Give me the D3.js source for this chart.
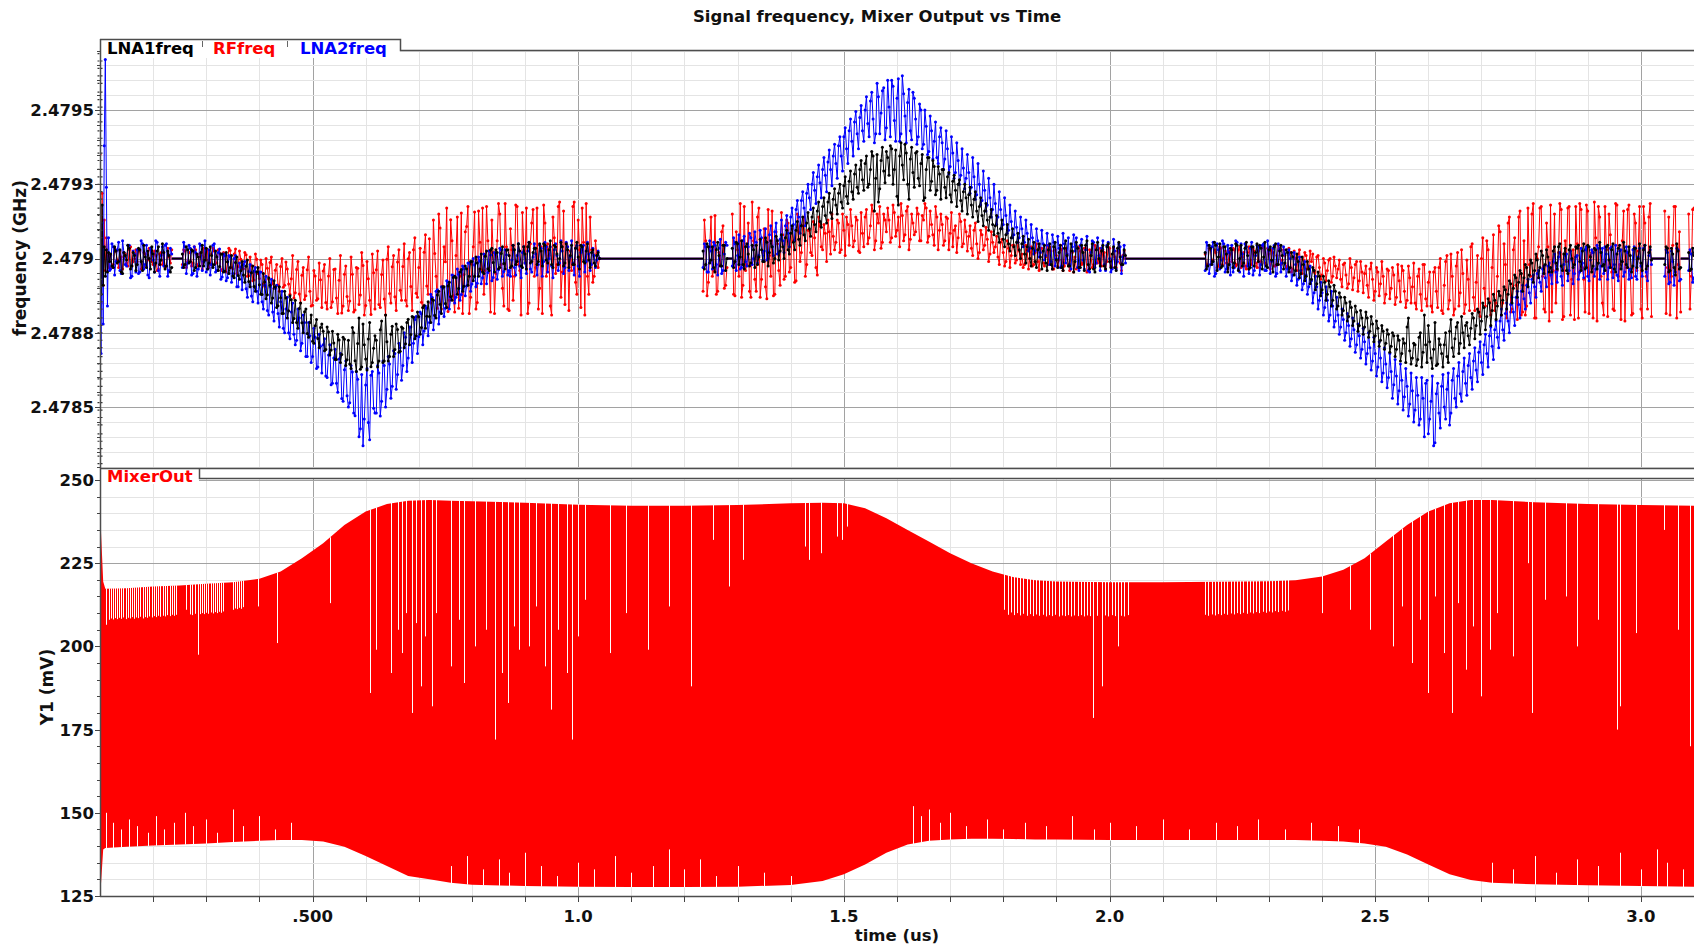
<!DOCTYPE html>
<html>
<head>
<meta charset="utf-8">
<title>Signal frequency, Mixer Output vs Time</title>
<script src="https://cdn.jsdelivr.net/npm/d3@7"></script>
<style>
  html, body { margin: 0; padding: 0; background: #fff; }
  svg { display: block; }
</style>
</head>
<body>
<svg id="chart" width="1694" height="947"></svg>
<script>
/* ---- DATA -----------------------------------------------------------------
   Frequency series are offsets in kHz from 2.479 GHz. Each measured stretch
   starts at SEG_START_US; *_A/_B/_C hold the samples on the 5 ns grid and
   *_MID the samples half a step later. null = counter holding.             */
var FREQ_CENTER_GHZ = 2.479;
var STEP_US = 0.005;
var SEG_START_US = [0.12, 1.235, 2.18];
var START_T0_US = 0.1, START_STEP_US = 0.002;      // start-up transient
var HOLD_SPANS_US = [[0.235, 0.255], [1.04, 1.235], [1.28, 1.29], [2.03, 2.18], [3.02, 3.045], [3.075, 3.09]];

var LNA1_START = [60, -120, 180, -90, 40, -60, 30, -45, 20, -10];
var LNA2_START = [-120, -320, 120, -220, 380, 670, 240, -160, 70, -40];
var RF_START   = [350, -150, 220, -90, 130, -40, 70, 15, -30, 10];
// LNA1 start-up marks stacked at t = 0.1 us
var LNA1_TRANSIENT = [-690, -665, -640, -615, -590, -560, -535, -510, -485, -460, -430, -405, -380, -355, -330,
  -300, -275, -250, -225, -200, -170, -145, -120, -95, -70, 70, 95, 120, 145, 170, 200, 225, 250, 275, 300,
  330, 355, 380, 405, 430, 460, 485, 510, 535, 560, 590, 615, 640, 665, 690];

var LNA1_A = [
  15, -30, 25, -10, -45, 20, -5, 35, -25, 10,
  -20, 30, -40, 5, 25, -35, 15, -15, 40, -5,
  20, -25, 10, -30, null, null, null, 15, -20, 30,
  -10, 25, -30, 5, 20, -25, 35, -15, 10, -20,
  5, -27, 15, -43, -11, -30, -59, -13, -57, -41,
  -55, -26, -77, -48, -94, -45, -88, -121, -79, -122,
  -90, -133, -96, -159, -132, -185, -133, -176, -139, -202,
  -215, -168, -216, -179, -252, -215, -278, -226, -269, -232,
  -245, -306, -247, -308, -284, -340, -274, -323, -272, -341,
  -355, -232, -344, -286, -373, -220, -338, -271, -364, -302,
  -275, -345, -210, -345, -280, -330, -228, -306, -239, -312,
  -235, -287, -204, -256, -198, -260, -196, -232, -158, -194,
  -195, -136, -192, -123, -154, -95, -151, -92, -128, -64,
  -65, -101, -37, -93, -34, -60, -10, -60, -15, -35,
  -45, 8, -34, 29, -13, 30, -34, 17, -17, 29,
  10, -25, 30, -10, 25, -30, 15, 40, -15, 20,
  35, -10, 25, 50, -5, 30, -20, 45, 15, 0,
  40, -15, 30, 10, -20, 35, 5, 45, -10, 25,
  -5, 20, -15, 10, 0
];
var LNA1_A_MID = [
  -25, 40, -15, 30, -50, 10, 45, -35, 20, -40,
  35, -10, 45, -30, 0, 40, -45, 25, -20, 50,
  -35, 25, -45, null, null, null, null, -30, 40, -15,
  30, -40, 15, -25, 45, -5, -35, 40, -30, 25,
  -40, 15, -45, 20, -50, 10, -65, 5, -70, -10,
  -80, -5, -95, -25, -110, -30, -120, -50, -135, -65,
  -150, -75, -165, -95, -185, -110, -200, -125, -215, -140,
  -235, -150, -250, -170, -265, -190, -285, -205, -300, -220,
  -310, -230, -325, -245, -340, -255, -350, -265, -360, -275,
  -370, -250, -380, -200, -365, -290, -375, -215, -350, -260,
  -365, -240, -350, -190, -345, -255, -330, -220, -315, -230,
  -300, -215, -290, -195, -270, -180, -255, -165, -235, -145,
  -215, -140, -200, -110, -185, -95, -165, -80, -140, -60,
  -120, -45, -110, -25, -90, -10, -75, 5, -60, 15,
  -50, 25, -40, 35, -45, 20, -30, 40, -35, 30,
  -30, 45, -20, 50, -25, 40, -35, 55, -10, 35,
  -20, 50, -25, 45, -15, 60, -30, 40, -20, 55,
  -25, 50, -30, 45, -20, 55, -35, 40, -15, 50,
  -30, 30, -25, 20
];
var LNA2_A = [
  -35, 40, -10, 55, -50, 20, -25, 45, -60, 15,
  30, -45, 50, -20, -55, 35, -5, 60, -40, 10,
  -25, 50, -40, 15, null, null, null, -30, 40, -15,
  35, -50, 20, -35, 45, -10, -45, 30, -20, 50,
  -40, 32, -62, 10, -65, 5, -50, 10, -95, -30,
  -20, -102, -44, -126, -43, -110, -45, -145, -90, -175,
  -95, -180, -100, -185, -145, -235, -170, -250, -180, -255,
  -275, -200, -285, -215, -330, -260, -330, -265, -365, -295,
  -290, -395, -325, -425, -335, -420, -338, -471, -374, -462,
  -485, -382, -529, -406, -573, -630, -426, -552, -393, -504,
  -520, -385, -480, -360, -440, -355, -430, -320, -390, -300,
  -360, -265, -335, -230, -285, -195, -263, -186, -244, -167,
  -215, -130, -190, -105, -180, -100, -167, -79, -131, -58,
  -130, -53, -121, -34, -92, -15, -86, -22, -83, -9,
  -65, 9, -47, 12, -64, 15, -38, 29, -44, 13,
  -40, -5, -30, 10, -25, 20, -15, 25, -35, 5,
  15, -20, 35, -10, 40, 0, -25, 30, 10, -15,
  25, -30, 40, 5, -15, 35, -25, 20, 45, -10,
  15, -20, 10, -5, 0
];
var LNA2_A_MID = [
  50, -55, 30, -40, 60, -20, 45, -65, 25, -45,
  -50, 60, -35, 45, -65, 20, -45, 55, -60, 40,
  45, -60, 35, null, null, null, null, 55, -50, 45,
  -55, 40, -60, 50, -40, 60, -35, -55, 45, -45,
  20, -70, 15, -75, 10, -80, 0, -95, -15, -105,
  -10, -130, -20, -145, -30, -150, -45, -170, -60, -190,
  -70, -210, -90, -230, -110, -250, -130, -270, -150, -290,
  -170, -310, -190, -330, -215, -350, -235, -370, -255, -385,
  -270, -400, -290, -420, -305, -450, -320, -480, -345, -500,
  -360, -520, -380, -600, -390, -540, -370, -610, -380, -520,
  -360, -530, -345, -500, -330, -470, -310, -440, -285, -410,
  -250, -380, -230, -350, -205, -320, -180, -290, -160, -260,
  -120, -240, -110, -220, -95, -195, -75, -170, -55, -150,
  -35, -140, -25, -125, -15, -110, 0, -95, 5, -85,
  15, -85, 25, -75, 20, -70, 35, -60, 30, -55,
  -60, 45, -55, 50, -65, 40, -50, 55, -45, 50,
  -55, 45, -60, 55, -45, 40, -65, 50, -40, 60,
  -50, 55, -40, 60, -55, 45, -60, 35, -45, 55,
  -40, 35, -30, 25
];
var RF_A = [
  10, -20, 25, -30, 5, 20, -15, 30, -25, 0,
  -10, 25, -30, 15, -5, 30, -20, 10, -35, 20,
  15, -25, 5, 30, null, null, null, -20, 25, -10,
  20, -15, 30, -25, 10, 35, -5, -30, 15, 25,
  -15, 19, -37, 13, -12, 27, -34, 32, -27, -2,
  -34, 13, -58, -24, -72, -2, -67, -20, -94, -33,
  -13, -84, -39, -89, -27, -97, -12, -86, -68, -133,
  -37, -119, -56, -138, -38, -110, -157, -59, -135, -71,
  -42, -148, -59, -165, -37, -133, -73, -183, -53, -128,
  -143, -53, -173, -33, -123, -23, -158, -68, -188, -48,
  -38, -155, -54, -136, -2, -118, -28, -129, -12, -107,
  -27, -140, -1, -94, 30, -117, -30, -147, 21, -92,
  67, -131, 17, -167, 103, -93, -11, -178, 131, -124,
  10, -167, 153, -54, 108, -185, -19, 157, -148, 55,
  170, -40, 60, -180, 20, -50, 185, -20, -160, 40,
  -175, 30, -60, 175, -40, 155, -15, -185, 50, 165,
  -30, -170, 40, 180, -60, 10, -190, 70, -20, 190,
  -45, -155, 40, 25, 175, -80, 130, -165, 55, 185,
  -120, 30, -60, 15, 0
];
var RF_A_MID = [
  -30, 35, -5, 25, -35, 15, -25, 40, -10, 30,
  30, -35, 20, -25, 35, -10, 25, -40, 15, -20,
  -30, 35, -15, null, null, null, null, 30, -30, 20,
  -25, 40, -20, 15, -35, 5, 30, -20, 35, -15,
  30, -40, 20, -45, 35, -30, 15, -50, 25, -35,
  20, -60, 5, -75, 15, -50, -5, -85, 0, -70,
  5, -100, -20, -110, 0, -90, -35, -120, 10, -115,
  -10, -150, -30, -125, 5, -160, -40, -140, -15, -165,
  -20, -170, 0, -145, -35, -185, 10, -160, -25, -175,
  5, -180, -30, -155, 20, -190, -10, -140, 15, -170,
  25, -165, -5, -190, 40, -150, 10, -175, 30, -140,
  50, -160, 20, -175, 70, -130, 35, -165, 80, -120,
  -150, 130, -60, 150, -170, 40, 170, -140, 60, -180,
  140, -60, -185, 90, 175, -130, 40, -170, 160, -40,
  -120, 175, -30, 130, -185, 60, 150, -100, 185, -170,
  100, -140, 180, -20, -190, 40, 170, -150, 120, -60,
  170, -100, -185, 120, 50, -160, 140, -50, 175, -130,
  160, 50, -175, -40, 190, -120, 30, 170, -190, -60,
  140, -80, 60, -30
];

var LNA1_B = [
  25, -20, 40, -5, -30, 30, 10, -25, 45, 0,
  null, 35, -10, 50, 5, -20, 40, 15, -15, 30,
  45, 5, 30, -10, 55, 20, 40, 0, 60, 25,
  40, 70, 30, 85, 55, 95, 65, 110, 80, 120,
  100, 140, 115, 160, 125, 175, 145, 190, 155, 200,
  180, 220, 190, 245, 210, 260, 225, 285, 240, 300,
  265, 320, 240, 300, 345, 270, 190, 330, 295, 360,
  280, 370, 300, 210, 345, 315, 385, 250, 335, 290,
  355, 270, 320, 195, 300, 340, 260, 310, 230, 285,
  300, 240, 275, 215, 260, 230, 250, 195, 225, 205,
  215, 180, 200, 160, 175, 145, 160, 130, 140, 115,
  110, 85, 100, 65, 80, 50, 70, 40, 55, 30,
  50, 15, 40, 0, 35, -10, 30, 5, 25, -15,
  30, -20, 40, -5, 20, -30, 35, 10, -25, 25,
  -10, 35, -30, 20, 45, -20, 10, -35, 30, 0,
  25, -25, 40, -10, 15, -30, 35, 5, -20, 10
];
var LNA1_B_MID = [
  -35, 50, -15, 40, -45, 55, -25, 45, -40, null,
  null, -30, 55, -20, 60, -35, 50, -25, 45, -30,
  -20, 65, -10, 70, -25, 60, -15, 75, -5, 80,
  0, 95, 15, 110, 30, 125, 45, 140, 60, 155,
  75, 170, 90, 190, 105, 205, 120, 220, 135, 235,
  150, 250, 170, 275, 185, 295, 200, 315, 220, 330,
  230, 345, 250, 360, 160, 350, 235, 375, 255, 340,
  380, 250, 365, 180, 390, 265, 355, 200, 375, 240,
  360, 245, 350, 205, 340, 230, 330, 215, 310, 200,
  300, 205, 290, 190, 280, 175, 265, 160, 250, 150,
  240, 140, 225, 125, 205, 110, 185, 95, 165, 80,
  145, 55, 130, 40, 115, 25, 100, 10, 85, 0,
  75, -15, 65, -25, 55, -30, 50, -35, 45, -40,
  50, -35, 55, -30, 45, -40, 60, -25, 50, -45,
  55, -30, 45, -40, 60, -35, 50, -45, 55, -25,
  45, -35, 50, -30, 40, -40, 55, -20, 30
];
var LNA2_B = [
  -30, 40, -45, 25, 55, -20, 35, -50, 15, 45,
  null, -25, 50, 10, -35, 60, -10, 40, 70, 0,
  55, 10, 70, 25, -5, 80, 40, 90, 15, 65,
  60, 110, 85, 140, 115, 165, 140, 195, 170, 220,
  205, 250, 230, 275, 255, 300, 280, 325, 300, 345,
  320, 380, 345, 410, 370, 430, 395, 460, 420, 475,
  430, 500, 455, 530, 470, 420, 545, 490, 575, 440,
  510, 600, 465, 540, 395, 615, 480, 525, 430, 560,
  470, 410, 500, 385, 445, 360, 430, 395, 340, 410,
  390, 335, 370, 310, 355, 290, 330, 280, 305, 270,
  290, 240, 275, 215, 250, 195, 230, 180, 205, 165,
  185, 140, 165, 115, 145, 95, 125, 80, 105, 70,
  100, 55, 85, 35, 70, 25, 60, 20, 50, 10,
  45, -10, 55, 0, 35, -25, 50, 15, -20, 40,
  25, -30, 45, -5, 30, -40, 20, 55, -15, 10,
  35, -20, 45, 0, -35, 25, -10, 40, 5, -15
];
var LNA2_B_MID = [
  50, -45, 60, -35, 45, -55, 65, -40, 55, null,
  null, 70, -40, 80, -30, 75, -25, 85, -20, 90,
  -15, 95, -5, 100, 0, 110, 10, 120, 20, 130,
  20, 145, 40, 170, 60, 195, 85, 225, 110, 250,
  165, 290, 185, 315, 205, 340, 225, 365, 245, 385,
  270, 410, 295, 440, 320, 470, 345, 495, 370, 515,
  395, 545, 410, 560, 390, 590, 420, 565, 400, 600,
  410, 580, 395, 605, 420, 555, 390, 570, 400, 540,
  385, 520, 370, 500, 350, 480, 335, 460, 320, 440,
  300, 430, 285, 410, 270, 390, 250, 370, 235, 350,
  220, 340, 200, 320, 180, 295, 160, 270, 140, 250,
  115, 225, 100, 205, 85, 180, 70, 160, 55, 140,
  40, 130, 25, 115, 15, 100, 5, 95, -5, 85,
  -20, 80, -25, 75, -30, 85, -15, 70, -35, 80,
  70, -40, 65, -35, 75, -45, 60, -30, 70, -40,
  60, -40, 55, -45, 65, -35, 50, -50, 45
];
var RF_B = [
  -110, 60, -80, 140, -40, -120, 20, 90, -100, -30,
  null, 150, -125, 30, 185, -90, -40, 120, -130, 60,
  -110, 170, -70, 100, -135, 10, 160, -120, 50, -90,
  80, -60, 120, -30, 60, -75, 90, 20, 140, -20,
  95, 10, 70, -55, 110, 30, 85, 130, 15, 75,
  55, 120, 30, 95, 140, 45, 110, 60, 130, 20,
  85, 140, 50, 110, 160, 60, 120, 35, 150, 90,
  130, 70, 155, 95, 40, 145, 80, 175, 65, 120,
  90, 150, 60, 130, 170, 75, 115, 45, 140, 95,
  115, 60, 135, 85, 40, 110, 70, 125, 50, 90,
  75, 35, 95, 50, 20, 80, 45, 65, 15, 55,
  40, 5, 55, 20, -10, 35, 10, 45, -5, 25,
  15, -20, 30, 0, -25, 20, -10, 35, -15, 5,
  -20, 25, -35, 10, -5, 30, -25, 15, -40, 20,
  5, -30, 25, -15, 35, -40, 10, -20, 30, -5,
  -25, 20, -10, 35, -30, 5, 25, -15, 10, 0
];
var RF_B_MID = [
  130, -125, 40, -60, 145, -110, -20, 110, -90, null,
  null, -120, 90, -60, -130, 175, -20, -110, 190, -70,
  140, -130, 20, -95, 165, -60, -125, 90, -40, 155,
  -70, 130, -45, 100, -80, 150, -10, 110, -60, 95,
  20, 125, -30, 140, 40, 115, -10, 90, 150, 30,
  130, 20, 150, 10, 115, 165, 40, 140, 25, 155,
  40, 165, 70, 180, 30, 150, 175, 55, 130, 170,
  55, 180, 75, 140, 185, 60, 160, 30, 150, 80,
  170, 60, 145, 185, 55, 160, 80, 175, 30, 150,
  45, 140, 30, 155, 95, 20, 150, 40, 130, 25,
  110, 10, 120, 0, 95, 30, 105, -10, 90, 20,
  75, -20, 65, -25, 60, -30, 45, -15, 55, -20,
  -30, 45, -35, 40, -20, 50, -40, 35, -25, 45,
  40, -35, 30, -25, 45, -40, 35, -20, 25, -45,
  -35, 40, -20, 35, -45, 30, -30, 45, -15, 35,
  30, -35, 40, -25, 35, -30, 20, -40, 25
];

var LNA1_C = [
  20, -25, 35, -10, 45, 5, -30, 40, 15, -20,
  30, -15, 45, 0, -25, 35, 10, -30, 40, 20,
  -10, 35, 5, -25, 30, -5, 40, -20, 25, 10,
  -15, 20, -30, 5, -40, -10, -50, -20, -60, -35,
  -70, -40, -85, -60, -105, -80, -120, -95, -140, -110,
  -160, -130, -175, -150, -195, -165, -210, -180, -225, -200,
  -230, -200, -245, -220, -260, -235, -275, -245, -285, -255,
  -295, -260, -305, -275, -320, -285, -230, -310, -335, -290,
  -340, -250, -315, -290, -225, -335, -305, -360, -270, -320,
  -290, -330, -245, -300, -270, -215, -285, -250, -225, -260,
  -235, -200, -225, -180, -210, -165, -195, -150, -175, -140,
  -160, -125, -140, -105, -120, -85, -100, -65, -80, -50,
  -65, -30, -55, -15, -40, -5, -30, 10, -20, 5,
  -30, 25, -15, 40, -25, 15, -40, 30, 0, -20,
  35, -10, 25, -35, 45, 5, -25, 30, -15, 20,
  -20, 40, -5, 30, -35, 15, 45, -10, 25, -30,
  10, -25, 35, 0, -15, 30, -35, 20, -5, null,
  null, null, null, -20, 35, -40, 15, -55, 25, -30,
  null, null, 20, -35, 10
];
var LNA1_C_MID = [
  -35, 45, -20, 55, -40, 50, -25, 40, -45, 35,
  -30, 50, -40, 45, -15, 55, -35, 40, -25, 50,
  45, -35, 55, -30, 40, -45, 50, -20, 45, -35,
  30, -45, 20, -55, 15, -65, 5, -75, -10, -85,
  -30, -105, -45, -125, -60, -140, -75, -160, -90, -170,
  -115, -190, -130, -210, -145, -225, -160, -245, -175, -255,
  -180, -265, -195, -280, -210, -295, -225, -305, -240, -315,
  -250, -330, -260, -345, -270, -350, -200, -355, -285, -360,
  -265, -365, -190, -350, -280, -370, -215, -355, -290, -365,
  -250, -350, -205, -330, -230, -320, -195, -300, -215, -290,
  -185, -270, -170, -255, -150, -240, -135, -225, -120, -205,
  -110, -190, -95, -170, -75, -150, -55, -130, -40, -110,
  -20, -95, -5, -80, 15, -65, 25, -50, 30, -45,
  -45, 40, -35, 50, -40, 35, -50, 45, -30, 40,
  45, -40, 50, -30, 40, -45, 35, -35, 55, -25,
  -40, 45, -30, 50, -45, 35, -35, 55, -20, 40,
  -45, 35, -30, 50, -40, 45, -25, 40, null, null,
  null, null, null, 40, -45, 35, -30, 50, -35, null,
  null, null, -40, 35
];
var LNA2_C = [
  -40, 45, -20, 55, -50, 30, -5, 50, -35, 20,
  45, -30, 55, -45, 15, 50, -25, 35, -55, 10,
  40, -20, 50, -40, 25, -10, 45, -50, 30, -15,
  15, -35, 0, -55, -20, -70, -40, -85, -55, -95,
  -75, -115, -95, -140, -115, -165, -140, -190, -160, -210,
  -190, -230, -205, -250, -225, -270, -240, -290, -260, -305,
  -280, -320, -300, -345, -320, -365, -335, -385, -355, -400,
  -380, -425, -395, -445, -410, -465, -430, -490, -445, -510,
  -460, -540, -470, -420, -590, -480, -630, -455, -520, -430,
  -500, -440, -560, -410, -470, -395, -455, -380, -420, -360,
  -400, -345, -375, -315, -350, -290, -320, -260, -295, -240,
  -265, -210, -240, -185, -210, -155, -180, -130, -155, -110,
  -135, -90, -115, -70, -95, -50, -80, -35, -65, -25,
  -55, -10, -45, 5, -60, -20, 15, -40, -5, -50,
  10, -45, -15, 30, -60, -5, 20, -35, 35, -25,
  -50, 15, -30, 40, -20, -55, 25, -10, -45, 20,
  -35, 30, -60, 5, -25, 35, -45, 10, -20, null,
  null, null, null, -60, 20, -80, -10, -45, 30, -70,
  null, null, -40, 15, -65
];
var LNA2_C_MID = [
  55, -50, 40, -60, 50, -35, 60, -45, 45, -55,
  -45, 60, -35, 50, -60, 40, -50, 55, -40, 45,
  -55, 45, -40, 60, -50, 35, -60, 50, -45, 40,
  -60, 30, -75, 20, -90, 5, -105, -10, -120, -25,
  -150, -60, -170, -80, -190, -95, -210, -110, -230, -130,
  -255, -170, -275, -185, -295, -200, -315, -220, -335, -235,
  -355, -250, -375, -265, -395, -280, -415, -300, -435, -320,
  -470, -340, -490, -355, -510, -370, -530, -385, -550, -400,
  -560, -400, -600, -410, -540, -395, -620, -420, -570, -390,
  -540, -385, -520, -370, -500, -350, -480, -335, -460, -320,
  -440, -300, -415, -280, -390, -255, -365, -230, -340, -210,
  -300, -170, -275, -150, -250, -130, -225, -110, -200, -90,
  -170, -70, -150, -55, -130, -40, -110, -25, -95, -15,
  -85, 15, -80, 20, -90, 10, -75, 25, -85, 5,
  -70, 35, -65, 40, -75, 30, -60, 45, -70, 35,
  40, -70, 35, -65, 45, -75, 30, -60, 40, -70,
  -65, 40, -70, 35, -60, 45, -75, 30, null, null,
  null, null, null, 30, -85, 25, -90, 35, -75, null,
  null, null, 30, -80
];
var RF_C = [
  15, -20, 30, -5, 20, -25, 35, 0, -15, 25,
  -10, 30, -20, 40, 5, -25, 20, -5, 35, -15,
  25, -10, 40, -20, 15, 30, -25, 10, 35, -5,
  10, -25, 20, -35, 0, 15, -40, -5, 10, -30,
  -10, -45, 5, -30, -55, -15, -40, 0, -60, -25,
  -35, -70, -20, -55, -85, -30, -65, -10, -75, -45,
  -50, -90, -35, -70, -110, -45, -85, -60, -120, -40,
  -100, -55, -130, -75, -25, -110, -140, -65, -95, -150,
  -60, -120, -20, -135, -80, -160, -45, -110, -30, -175,
  -90, 10, -140, -60, -170, 20, -115, -50, -155, -70,
  40, -130, -80, -180, 0, -100, 60, -145, -30, -175,
  -60, 90, -150, -20, 120, -180, 30, -90, 140, -190,
  60, -160, -20, 150, -200, 0, 170, -60, -180, 40,
  180, -40, -150, 20, 165, -195, -10, 175, -70, -205,
  50, 185, -30, -180, 160, 10, -200, 70, 175, -60,
  -190, 30, 150, -45, -175, 180, -20, 60, -210, 165,
  -40, -185, 120, 25, -170, 175, -60, 140, -195, null,
  null, null, null, 160, -30, -190, 45, 175, -20, -180,
  null, null, 150, -60, 170
];
var RF_C_MID = [
  -25, 35, -10, 30, -30, 40, -20, 25, -35, 15,
  35, -25, 30, -30, 20, -35, 40, -20, 25, -30,
  -30, 40, -15, 35, -35, 20, -25, 45, -20, 30,
  -30, 35, -45, 25, -40, 30, -50, 20, -35, 25,
  15, -60, 10, -70, 0, -75, -5, -80, 5, -65,
  -5, -95, -15, -100, 0, -105, -20, -110, -10, -115,
  -25, -130, -15, -140, -30, -125, -10, -150, -35, -135,
  -30, -155, -20, -145, -40, -165, -25, -150, -15, -170,
  -35, -175, -20, -160, -45, -180, -30, -165, 0, -185,
  -10, -170, 15, -190, -25, -160, 30, -185, -5, -175,
  50, -175, 10, -195, 70, -160, 30, -190, 80, -150,
  110, -190, 50, -200, 140, -170, 70, -205, 160, -180,
  -190, 170, -60, 185, -200, 40, 175, -170, 120, -210,
  -180, 150, -40, 185, -205, 60, 170, -190, 30, 175,
  -200, 165, -70, 180, -185, 20, 190, -210, 140, -150,
  175, -195, 80, -170, 185, -60, -205, 160, -30, 180,
  -190, 150, -40, 175, -200, 120, -170, 185, null, null,
  null, null, null, -185, 140, -60, 175, -200, 90, null,
  null, null, -170, 165
];

/* Mixer output: envelope of the dense oscillation (mV) */
var MIX_T = [0.100, 0.102, 0.106, 0.110, 0.15, 0.20, 0.25, 0.30, 0.35, 0.40,
  0.44, 0.48, 0.52, 0.56, 0.60, 0.64, 0.68, 0.72, 0.76, 0.80,
  0.90, 1.00, 1.10, 1.20, 1.30, 1.40,
  1.46, 1.50, 1.54, 1.58, 1.62, 1.66, 1.70, 1.74, 1.78, 1.82, 1.86, 1.90,
  2.00, 2.10, 2.20, 2.30, 2.35, 2.40, 2.44, 2.48, 2.52, 2.56, 2.60, 2.64, 2.68, 2.72,
  2.80, 2.90, 3.00, 3.10];
var MIX_TOP = [248, 234, 219.5, 217.3, 217.5, 218, 218.3, 218.8, 219.3, 220.3,
  222.5, 226.5, 231, 236.5, 240.5, 242.8, 243.8, 244, 243.8, 243.6,
  243.2, 242.6, 242.3, 242.3, 242.5, 243,
  243.2, 243, 241.5, 238.5, 235, 231.5, 228, 225, 222.5, 220.8, 219.9, 219.5,
  219.3, 219.3, 219.4, 219.6, 219.9, 221, 223, 226.5, 231.5, 236.5, 240.5, 243, 244, 244,
  243.3, 242.8, 242.5, 242.3];
var MIX_BOT = [125, 129, 139, 139.4, 139.8, 140.2, 140.5, 140.8, 141.2, 141.6,
  141.8, 141.8, 141.4, 139.8, 137, 134, 131, 130, 129, 128.4,
  128, 127.8, 127.7, 127.7, 127.8, 128.3,
  129.5, 131.5, 134.5, 138, 140.5, 141.6, 142, 142.2, 142.2, 142.1, 142, 142,
  141.8, 141.8, 141.8, 141.8, 141.8, 141.6, 141.4, 140.8, 139.8, 137.5, 134.5, 131.5, 129.8, 129,
  128.5, 128.2, 128, 127.8];
// cycles whose peak falls short of the envelope: [time us, peak mV]
var MIX_TOP_DIPS = [
  [0.112, 206.5], [0.116, 208], [0.12, 208.4], [0.124, 208.1], [0.128, 208.5], [0.132, 208.2], [0.136, 208.6],
  [0.14, 208.3], [0.144, 208.7], [0.148, 208.2], [0.152, 208.6], [0.156, 208.4], [0.16, 208.8], [0.164, 208.3],
  [0.168, 208.7], [0.172, 208.5], [0.176, 208.9], [0.18, 208.4], [0.184, 208.8], [0.188, 208.6], [0.193, 209],
  [0.197, 208.7], [0.201, 209.1], [0.205, 208.8], [0.209, 209.2], [0.213, 208.9],
  [0.219, 209.2], [0.223, 209], [0.227, 209.4], [0.231, 209.1], [0.235, 209.5], [0.239, 209.2], [0.243, 209.5],
  [0.262, 211], [0.27, 209.6], [0.274, 209.4], [0.278, 209.8], [0.284, 197.5], [0.288, 209.7], [0.292, 210],
  [0.296, 209.7], [0.3, 210.1], [0.304, 209.8], [0.308, 210.2], [0.312, 209.9], [0.316, 210.3], [0.32, 210],
  [0.324, 210.4], [0.328, 210.1], [0.332, 210.5],
  [0.35, 211], [0.354, 211.4], [0.358, 211.2], [0.362, 211.6], [0.366, 211.3], [0.37, 211.8],
  [0.397, 212], [0.433, 201],
  [0.532, 213], [0.609, 186], [0.62, 199], [0.647, 192], [0.66, 205], [0.668, 198], [0.675, 210], [0.688, 180],
  [0.695, 207], [0.704, 188], [0.712, 203], [0.725, 182], [0.733, 210], [0.761, 194], [0.775, 208], [0.786, 189],
  [0.805, 200], [0.826, 205], [0.843, 172], [0.856, 192], [0.867, 183], [0.88, 206], [0.888, 199], [0.908, 200],
  [0.92, 212], [0.938, 194], [0.948, 181], [0.962, 205], [0.978, 192], [0.989, 172], [1.0, 203], [1.012, 214],
  [1.06, 198], [1.09, 210], [1.131, 199], [1.17, 212], [1.213, 188], [1.253, 232], [1.284, 218], [1.31, 226],
  [1.426, 230], [1.434, 226], [1.457, 228], [1.488, 233], [1.497, 232], [1.505, 236],
  [1.802, 211], [1.808, 209.5], [1.814, 210.2], [1.82, 209.4], [1.826, 210], [1.832, 209.3], [1.838, 209.8],
  [1.844, 209.2], [1.85, 209.7], [1.856, 209.1], [1.862, 209.6], [1.868, 209.2], [1.874, 209.5], [1.88, 209],
  [1.886, 209.4], [1.892, 209.1], [1.898, 209.5], [1.904, 209], [1.91, 209.3], [1.916, 209.1], [1.922, 209.4],
  [1.928, 209], [1.934, 209.3], [1.94, 209.1], [1.946, 209.4], [1.952, 209], [1.958, 209.3], [1.964, 209.1],
  [1.969, 178.5], [1.976, 209.2], [1.985, 188], [1.992, 209.3], [1.998, 209], [2.004, 209.4], [2.01, 209.1],
  [2.016, 200], [2.022, 209.2], [2.028, 209], [2.034, 209.4],
  [2.18, 209.5], [2.186, 209.2], [2.192, 209.6], [2.198, 209.3], [2.204, 209.7], [2.21, 209.4], [2.216, 209.8],
  [2.222, 209.5], [2.228, 209.9], [2.234, 209.6], [2.24, 210], [2.246, 209.7], [2.252, 210.1], [2.258, 209.8],
  [2.264, 210.2], [2.27, 209.9], [2.276, 210.3], [2.282, 210], [2.288, 210.4], [2.294, 210.1], [2.3, 210.5],
  [2.306, 210.2], [2.312, 210.6], [2.318, 210.3], [2.324, 210.7], [2.33, 210.4], [2.336, 210.8],
  [2.4, 210], [2.453, 211], [2.49, 205], [2.534, 200], [2.55, 212], [2.57, 195], [2.585, 208], [2.6, 186],
  [2.612, 215], [2.63, 198], [2.645, 180], [2.656, 213], [2.67, 193], [2.685, 206], [2.7, 185], [2.717, 199],
  [2.73, 210], [2.76, 197], [2.788, 225], [2.795, 180], [2.82, 214], [2.86, 215], [2.88, 200], [2.92, 208],
  [2.955, 175], [2.961, 182], [2.99, 204], [3.043, 235], [3.07, 205], [3.093, 170]
];
// cycles whose trough stays above the envelope: [time us, trough mV]
var MIX_BOT_DIPS = [
  [0.112, 150], [0.125, 147], [0.14, 145], [0.155, 148], [0.17, 146], [0.19, 144], [0.205, 149], [0.22, 145],
  [0.24, 147], [0.26, 150], [0.275, 146], [0.3, 148], [0.32, 144], [0.35, 151], [0.37, 146], [0.4, 149],
  [0.43, 145], [0.46, 147],
  [0.76, 134], [0.79, 137], [0.82, 133], [0.85, 136], [0.87, 132], [0.9, 138], [0.93, 134], [0.96, 131],
  [1.0, 135], [1.03, 133], [1.07, 137], [1.1, 132], [1.14, 134], [1.17, 139], [1.2, 133], [1.23, 136],
  [1.26, 131], [1.3, 134], [1.35, 132], [1.4, 131],
  [1.63, 152], [1.645, 149], [1.66, 151], [1.68, 147], [1.7, 150], [1.73, 146], [1.77, 148], [1.8, 145],
  [1.84, 147], [1.88, 146], [1.93, 149], [1.97, 145], [2.0, 147], [2.05, 146], [2.1, 148], [2.15, 145],
  [2.2, 147], [2.24, 146], [2.28, 148], [2.33, 145], [2.38, 147], [2.43, 146], [2.47, 145],
  [2.72, 135], [2.76, 133], [2.8, 137], [2.84, 132], [2.88, 136], [2.92, 134], [2.96, 138], [3.0, 133],
  [3.03, 139], [3.05, 135], [3.08, 133]
];

/* ---- Axes ---------------------------------------------------------------- */
var TIME_TICKS = [0.5, 1.0, 1.5, 2.0, 2.5, 3.0];
var TIME_TICK_LABELS = ['.500', '1.0', '1.5', '2.0', '2.5', '3.0'];
var FREQ_TICKS = [2.4795, 2.47925, 2.479, 2.47875, 2.4785];
var FREQ_TICK_LABELS = ['2.4795', '2.4793', '2.479', '2.4788', '2.4785'];
var MV_TICKS = [250, 225, 200, 175, 150, 125];
var MV_TICK_LABELS = ['250', '225', '200', '175', '150', '125'];
var LEGEND_TOP = ['LNA1freq', 'RFfreq', 'LNA2freq'];
var LEGEND_LOW = ['MixerOut'];

(function () {
  'use strict';

  /* ---- CONFIG ------------------------------------------------------------ */
  var CONFIG = {
    left: 100, right: 1694,
    topPanel: { yTop: 50.6, yBot: 466.5, frame: 50, floor: 468, tabTop: 39, tabRight: 400 },
    lowPanel: { yTop: 480, yBot: 896, frame: 478, tabRight: 199 },
    dotR: 1.5,
    colors: {
      lna1: '#000000', rf: '#ff0000', lna2: '#0000ff', mix: '#ff0000',
      gridMajor: '#a2a2a2', gridMinor: '#e4e4e4', frame: '#4d4d4d', text: '#111111'
    },
    font: '"DejaVu Sans", "Noto Sans", sans-serif'
  };

  var svg = d3.select('#chart');
  var C = CONFIG.colors;

  var x = d3.scaleLinear().domain([0.1, 3.1]).range([CONFIG.left, CONFIG.right]);
  var yF = d3.scaleLinear().domain([2.4783, 2.4797]).range([CONFIG.topPanel.yBot, CONFIG.topPanel.yTop]);
  var yM = d3.scaleLinear().domain([125, 250]).range([CONFIG.lowPanel.yBot, CONFIG.lowPanel.yTop]);
  function px(v) { return Math.round(v) + 0.5; }
  function fy(v) { return yF(FREQ_CENTER_GHZ + v * 1e-6); }

  var defs = svg.append('defs');
  defs.append('clipPath').attr('id', 'clip-top').append('rect')
    .attr('x', CONFIG.left).attr('y', CONFIG.topPanel.frame)
    .attr('width', CONFIG.right - CONFIG.left).attr('height', CONFIG.topPanel.floor - CONFIG.topPanel.frame);
  defs.append('clipPath').attr('id', 'clip-low').append('rect')
    .attr('x', CONFIG.left).attr('y', CONFIG.lowPanel.frame)
    .attr('width', CONFIG.right - CONFIG.left).attr('height', CONFIG.lowPanel.yBot - CONFIG.lowPanel.frame);

  /* ---- Grid -------------------------------------------------------------- */
  var grid = svg.append('g');
  var tenths = d3.range(2, 32);          // 0.2 .. 3.1 us
  [[CONFIG.topPanel.frame, CONFIG.topPanel.floor], [CONFIG.lowPanel.frame, CONFIG.lowPanel.yBot]].forEach(function (span) {
    tenths.forEach(function (i) {
      grid.append('line')
        .attr('x1', px(x(i / 10))).attr('x2', px(x(i / 10)))
        .attr('y1', span[0]).attr('y2', span[1])
        .attr('stroke', i % 5 === 0 ? C.gridMajor : C.gridMinor).attr('stroke-width', 1);
    });
  });
  d3.range(0, 29).forEach(function (i) {     // 2.4783 .. 2.4797 every 50 kHz
    var f = 2.4783 + i * 0.00005;
    var major = (i - 4) % 5 === 0;
    grid.append('line')
      .attr('x1', CONFIG.left).attr('x2', CONFIG.right)
      .attr('y1', px(yF(f))).attr('y2', px(yF(f)))
      .attr('stroke', major ? C.gridMajor : C.gridMinor).attr('stroke-width', 1);
  });
  d3.range(125, 251, 5).forEach(function (v) {
    grid.append('line')
      .attr('x1', CONFIG.left).attr('x2', CONFIG.right)
      .attr('y1', px(yM(v))).attr('y2', px(yM(v)))
      .attr('stroke', v % 25 === 0 ? C.gridMajor : C.gridMinor).attr('stroke-width', 1);
  });

  /* ---- Frequency series -------------------------------------------------- */
  // merge grid samples and half-step samples of each stretch in time order
  function buildParts(start, segs, mids) {
    var head = start.map(function (v, i) { return { t: START_T0_US + i * START_STEP_US, v: v }; });
    return segs.map(function (arr, k) {
      var pts = [];
      arr.forEach(function (v, i) {
        var t = SEG_START_US[k] + i * STEP_US;
        pts.push({ t: t, v: v });
        if (i < mids[k].length) pts.push({ t: t + STEP_US / 2, v: mids[k][i] });
      });
      return k === 0 ? head.concat(pts) : pts;
    });
  }
  var series = [
    { name: 'RFfreq', color: C.rf, parts: buildParts(RF_START, [RF_A, RF_B, RF_C], [RF_A_MID, RF_B_MID, RF_C_MID]) },
    { name: 'LNA2freq', color: C.lna2, parts: buildParts(LNA2_START, [LNA2_A, LNA2_B, LNA2_C], [LNA2_A_MID, LNA2_B_MID, LNA2_C_MID]) },
    { name: 'LNA1freq', color: C.lna1, parts: buildParts(LNA1_START, [LNA1_A, LNA1_B, LNA1_C], [LNA1_A_MID, LNA1_B_MID, LNA1_C_MID]) }
  ];
  var line = d3.line()
    .defined(function (d) { return d.v !== null; })
    .x(function (d) { return x(d.t); })
    .y(function (d) { return fy(d.v); });

  var topG = svg.append('g').attr('clip-path', 'url(#clip-top)');
  series.forEach(function (s) {
    var g = topG.append('g');
    HOLD_SPANS_US.forEach(function (h) {
      g.append('line')
        .attr('x1', x(h[0])).attr('x2', x(h[1]))
        .attr('y1', fy(0)).attr('y2', fy(0))
        .attr('stroke', s.color).attr('stroke-width', 1.8);
    });
    s.parts.forEach(function (pts) {
      g.append('path').attr('d', line(pts))
        .attr('fill', 'none').attr('stroke', s.color).attr('stroke-width', 1);
      g.selectAll(null)
        .data(pts.filter(function (d) { return d.v !== null; }))
        .enter().append('circle')
        .attr('cx', function (d) { return x(d.t); })
        .attr('cy', function (d) { return fy(d.v); })
        .attr('r', CONFIG.dotR).attr('fill', s.color);
    });
  });
  svg.append('g').selectAll('line')
    .data(LNA1_TRANSIENT).enter().append('line')
    .attr('x1', x(0.1) - 2.5).attr('x2', x(0.1) + 2.5)
    .attr('y1', function (d) { return fy(d); }).attr('y2', function (d) { return fy(d); })
    .attr('stroke', '#333').attr('stroke-width', 1.2).attr('stroke-dasharray', '2 1');

  /* ---- Mixer output ------------------------------------------------------ */
  var lowG = svg.append('g').attr('clip-path', 'url(#clip-low)');
  var env = MIX_T.map(function (t, i) { return { t: t, top: MIX_TOP[i], bot: MIX_BOT[i] }; });
  lowG.append('path')
    .attr('d', d3.area()
      .x(function (d) { return x(d.t); })
      .y0(function (d) { return yM(d.bot); })
      .y1(function (d) { return yM(d.top); })(env))
    .attr('fill', C.mix);
  var envTop = d3.scaleLinear().domain(MIX_T).range(MIX_TOP);
  var envBot = d3.scaleLinear().domain(MIX_T).range(MIX_BOT);
  lowG.selectAll('line.top-dip').data(MIX_TOP_DIPS).enter().append('line')
    .attr('x1', function (d) { return px(x(d[0])); }).attr('x2', function (d) { return px(x(d[0])); })
    .attr('y1', function (d) { return yM(envTop(d[0])) - 0.5; })
    .attr('y2', function (d) { return yM(d[1]); })
    .attr('stroke', '#ffffff').attr('stroke-width', 1);
  lowG.selectAll('line.bot-dip').data(MIX_BOT_DIPS).enter().append('line')
    .attr('x1', function (d) { return px(x(d[0])); }).attr('x2', function (d) { return px(x(d[0])); })
    .attr('y1', function (d) { return yM(envBot(d[0])) + 0.5; })
    .attr('y2', function (d) { return yM(d[1]); })
    .attr('stroke', '#ffffff').attr('stroke-width', 1);

  /* ---- Frames, tabs, legends -------------------------------------------- */
  var tp = CONFIG.topPanel, lp = CONFIG.lowPanel;
  var chrome = svg.append('g');
  chrome.append('rect').attr('x', CONFIG.left + 1).attr('y', tp.tabTop)
    .attr('width', tp.tabRight - CONFIG.left - 1).attr('height', 19).attr('fill', '#fff');
  chrome.append('rect').attr('x', CONFIG.left + 1).attr('y', tp.floor)
    .attr('width', lp.tabRight - CONFIG.left - 1).attr('height', 16).attr('fill', '#fff');
  chrome.append('path')
    .attr('d', 'M' + CONFIG.left + ',' + (tp.tabTop + 0.5) + 'H' + (tp.tabRight + 0.5) +
      'V' + (tp.frame + 0.5) + 'H' + CONFIG.right)
    .attr('fill', 'none').attr('stroke', C.frame).attr('stroke-width', 1.5);
  chrome.append('line')
    .attr('x1', CONFIG.left).attr('x2', CONFIG.right).attr('y1', tp.floor + 0.5).attr('y2', tp.floor + 0.5)
    .attr('stroke', C.frame).attr('stroke-width', 1.5);
  chrome.append('path')
    .attr('d', 'M' + (lp.tabRight + 0.5) + ',' + tp.floor + 'V' + (lp.frame + 0.5) + 'H' + CONFIG.right)
    .attr('fill', 'none').attr('stroke', C.frame).attr('stroke-width', 1.5);
  chrome.append('line')
    .attr('x1', CONFIG.left + 0.5).attr('x2', CONFIG.left + 0.5).attr('y1', tp.tabTop).attr('y2', lp.yBot)
    .attr('stroke', C.frame).attr('stroke-width', 1.5);
  chrome.append('line')
    .attr('x1', CONFIG.left).attr('x2', CONFIG.right).attr('y1', lp.yBot + 0.5).attr('y2', lp.yBot + 0.5)
    .attr('stroke', C.frame).attr('stroke-width', 1.5);

  var legendX = [107, 213, 300], legendColors = [C.lna1, C.rf, C.lna2];
  LEGEND_TOP.forEach(function (name, i) {
    chrome.append('text').attr('x', legendX[i]).attr('y', 54)
      .attr('font-family', CONFIG.font).attr('font-size', 16.5).attr('font-weight', 'bold')
      .attr('fill', legendColors[i]).text(name);
  });
  [202, 287].forEach(function (sx) {
    chrome.append('line').attr('x1', sx + 0.5).attr('x2', sx + 0.5).attr('y1', 41).attr('y2', 47)
      .attr('stroke', '#666').attr('stroke-width', 1);
  });
  chrome.append('text').attr('x', 107).attr('y', 482)
    .attr('font-family', CONFIG.font).attr('font-size', 16.5).attr('font-weight', 'bold')
    .attr('fill', C.mix).text(LEGEND_LOW[0]);

  /* ---- Ticks + labels ---------------------------------------------------- */
  var axes = svg.append('g').attr('font-family', CONFIG.font).attr('fill', C.text);
  d3.range(0, 29).forEach(function (i) {
    var yy = px(yF(2.4783 + i * 0.00005));
    axes.append('line').attr('x1', CONFIG.left - ((i - 4) % 5 === 0 ? 5 : 3)).attr('x2', CONFIG.left)
      .attr('y1', yy).attr('y2', yy).attr('stroke', '#444');
  });
  d3.range(125, 251, 5).forEach(function (v) {
    var yy = px(yM(v));
    axes.append('line').attr('x1', CONFIG.left - (v % 25 === 0 ? 5 : 3)).attr('x2', CONFIG.left)
      .attr('y1', yy).attr('y2', yy).attr('stroke', '#444');
  });
  tenths.forEach(function (i) {
    axes.append('line').attr('x1', px(x(i / 10))).attr('x2', px(x(i / 10)))
      .attr('y1', lp.yBot).attr('y2', lp.yBot + 6).attr('stroke', '#444');
  });
  FREQ_TICKS.forEach(function (f, i) {
    axes.append('text').attr('x', 94).attr('y', yF(f)).attr('dy', '0.36em')
      .attr('text-anchor', 'end').attr('font-size', 16.5).attr('font-weight', 'bold')
      .text(FREQ_TICK_LABELS[i]);
  });
  MV_TICKS.forEach(function (v, i) {
    axes.append('text').attr('x', 94).attr('y', yM(v)).attr('dy', '0.36em')
      .attr('text-anchor', 'end').attr('font-size', 16.5).attr('font-weight', 'bold')
      .text(MV_TICK_LABELS[i]);
  });
  TIME_TICKS.forEach(function (t, i) {
    axes.append('text').attr('x', x(t)).attr('y', 922)
      .attr('text-anchor', 'middle').attr('font-size', 16.5).attr('font-weight', 'bold')
      .text(TIME_TICK_LABELS[i]);
  });
  axes.append('text').attr('x', 897).attr('y', 941).attr('text-anchor', 'middle')
    .attr('font-size', 16.5).attr('font-weight', 'bold').text('time (us)');
  axes.append('text').attr('transform', 'translate(26,258) rotate(-90)').attr('text-anchor', 'middle')
    .attr('font-size', 17).attr('font-weight', 'bold').text('frequency (GHz)');
  axes.append('text').attr('transform', 'translate(53,687) rotate(-90)').attr('text-anchor', 'middle')
    .attr('font-size', 17).attr('font-weight', 'bold').text('Y1 (mV)');
  axes.append('text').attr('x', 877).attr('y', 22).attr('text-anchor', 'middle')
    .attr('font-size', 16.5).attr('font-weight', 'bold').text('Signal frequency, Mixer Output vs Time');
})();
</script>
</body>
</html>
